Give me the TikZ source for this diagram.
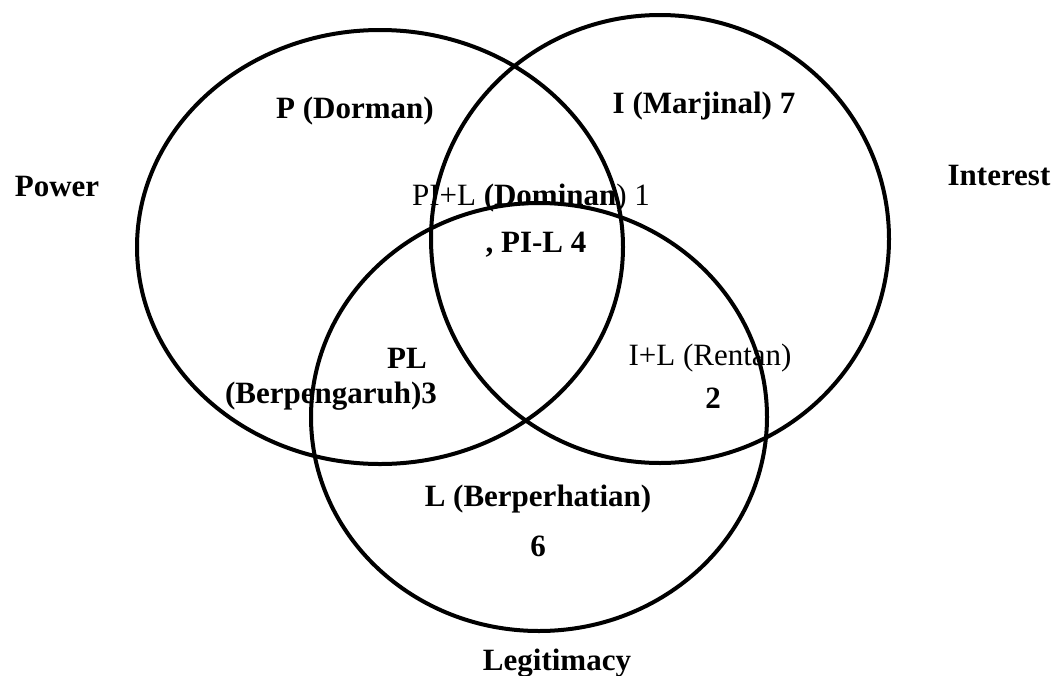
\documentclass[tikz,border=0pt]{standalone}
\usepackage{fontspec}
\setmainfont{Liberation Serif}
\begin{document}
\begin{tikzpicture}[x=1pt,y=-1pt,
  lbl/.style={font=\fontsize{31}{34}\selectfont\bfseries, inner sep=0pt, anchor=base},
  set/.style={line width=4pt, black}]
\useasboundingbox (0,0) rectangle (1054,675);
% circles
\draw[set] (380,247) ellipse [x radius=243pt, y radius=217pt];
\draw[set] (660,239) ellipse [x radius=229pt, y radius=224pt];
\draw[set] (539,417) ellipse [x radius=228pt, y radius=214pt];
% outer labels
\node[lbl] (power) at (57,196) {Power};
\node[lbl] (interest) at (999,185) {Interest};
\node[lbl] (legit) at (557,670) {Legitimacy};
% region labels
\node[lbl] (p) at (355,118) {P (Dorman)};
\node[lbl] (i) at (704,113) {I (Marjinal) 7};
\node[lbl] (pil) at (531,205) {\mdseries PI+L \bfseries(Dominan\mdseries) 1};
\node[lbl] (pil4) at (536,252) {, PI-L 4};
\node[lbl] (pl) at (407,368) {PL};
\node[lbl] (plb) at (331,403) {(Berpengaruh)3};
\node[lbl] (il) at (710,365) {\mdseries I+L (Rentan)};
\node[lbl] (il2) at (713,408) {2};
\node[lbl] (l) at (538,506) {L (Berperhatian)};
\node[lbl] (l6) at (538,556) {6};
\end{tikzpicture}
\end{document}
